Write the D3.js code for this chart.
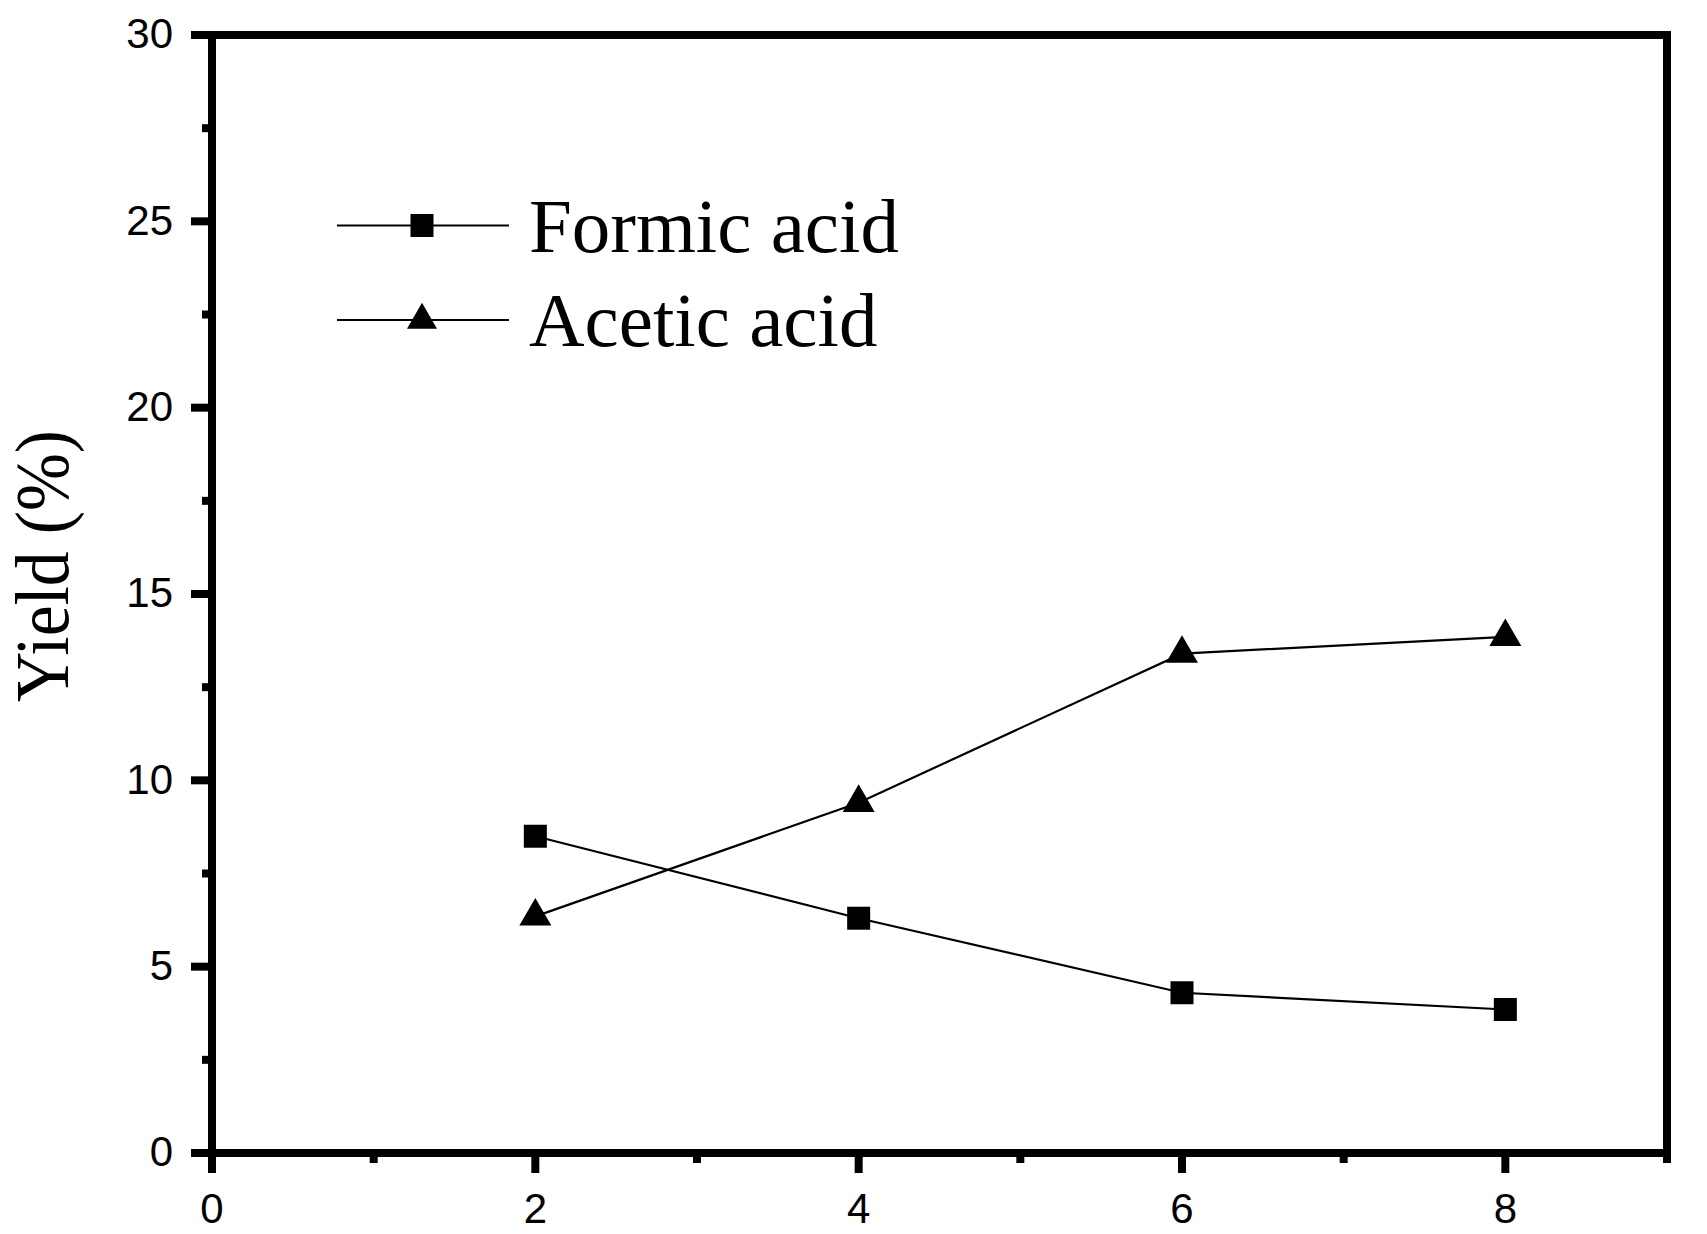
<!DOCTYPE html>
<html><head><meta charset="utf-8">
<script src="https://cdn.jsdelivr.net/npm/d3@7"></script>
<style>html,body{margin:0;padding:0;background:#fff;}svg{display:block;}</style>
</head><body>
<svg id="c" width="1707" height="1234"></svg>
<script>
const times = [2, 4, 6, 8];
const formicAcid = [8.5, 6.3, 4.3, 3.85];
const aceticAcid = [6.35, 9.4, 13.4, 13.85];
const seriesNames = ["Formic acid", "Acetic acid"];
const xMajorTicks = [0, 2, 4, 6, 8];
const xMinorTicks = [1, 3, 5, 7, 9];
const yMajorTicks = [0, 5, 10, 15, 20, 25, 30];
const yMinorTicks = [2.5, 7.5, 12.5, 17.5, 22.5, 27.5];
const yTitle = "Yield (%)";

const svg = d3.select("#c");
const L = 212, R = 1667, T = 35, B = 1153;
const x = d3.scaleLinear().domain([0, 9]).range([L, R]);
const y = d3.scaleLinear().domain([0, 30]).range([B, T]);
const AX = 8;
const sans = "'Liberation Sans', Arial, sans-serif";
const serif = "'Liberation Serif', 'Times New Roman', serif";

function styleAxis(g) {
  g.select(".domain").remove();
  g.selectAll(".tick line").attr("stroke", "#000").attr("stroke-width", AX);
  g.selectAll(".tick text").attr("fill", "#000").style("font-family", sans).style("font-size", "42px");
}

// x axis
svg.append("g").attr("transform", `translate(0,${B})`)
  .call(d3.axisBottom(x).tickValues(xMajorTicks).tickSize(20).tickPadding(20).tickFormat(d3.format("d")).offset(0))
  .call(styleAxis);
svg.append("g").attr("transform", `translate(0,${B})`)
  .call(d3.axisBottom(x).tickValues(xMinorTicks).tickSize(10).tickFormat("").offset(0))
  .call(styleAxis);
// y axis
svg.append("g").attr("transform", `translate(${L},0)`)
  .call(d3.axisLeft(y).tickValues(yMajorTicks).tickSize(21).tickPadding(18).tickFormat(d3.format("d")).offset(0))
  .call(styleAxis);
svg.append("g").attr("transform", `translate(${L},0)`)
  .call(d3.axisLeft(y).tickValues(yMinorTicks).tickSize(10).tickFormat("").offset(0))
  .call(styleAxis);

// frame
svg.append("rect").attr("x", L).attr("y", T).attr("width", R - L).attr("height", B - T)
  .attr("fill", "none").attr("stroke", "#000").attr("stroke-width", AX);

// y title
svg.append("text").attr("transform", "translate(68,566) rotate(-90)")
  .attr("text-anchor", "middle").style("font-family", serif).style("font-size", "76px")
  .attr("textLength", 272).attr("lengthAdjust", "spacingAndGlyphs")
  .attr("fill", "#000").text(yTitle);

// lines
const line = d3.line().x((d, i) => x(times[i])).y(d => y(d));
[formicAcid, aceticAcid].forEach(s => {
  svg.append("path").datum(s).attr("d", line).attr("fill", "none")
    .attr("stroke", "#000").attr("stroke-width", 2.2);
});

function triPath(w, h) {
  // centroid at origin
  return `M0,${-2 * h / 3}L${w / 2},${h / 3}L${-w / 2},${h / 3}Z`;
}

// markers
svg.append("g").selectAll("rect").data(formicAcid).join("rect")
  .attr("x", (d, i) => x(times[i]) - 11.5).attr("y", d => y(d) - 11.5)
  .attr("width", 23).attr("height", 23).attr("fill", "#000");
svg.append("g").selectAll("path").data(aceticAcid).join("path")
  .attr("transform", (d, i) => `translate(${x(times[i])},${y(d)})`)
  .attr("d", triPath(32, 27.7)).attr("fill", "#000");

// legend
const leg = svg.append("g");
const rows = [{ y: 225.5, base: 251.5, name: seriesNames[0], m: "sq" }, { y: 320, base: 346, name: seriesNames[1], m: "tri" }];
rows.forEach(r => {
  leg.append("line").attr("x1", 337).attr("x2", 509).attr("y1", r.y).attr("y2", r.y)
    .attr("stroke", "#000").attr("stroke-width", 2.2);
  if (r.m === "sq") {
    leg.append("rect").attr("x", 422 - 11.5).attr("y", r.y - 11.5).attr("width", 23).attr("height", 23).attr("fill", "#000");
  } else {
    leg.append("path").attr("transform", `translate(422,${r.y})`).attr("d", triPath(30, 26)).attr("fill", "#000");
  }
  leg.append("text").attr("x", 529).attr("y", r.base)
    .style("font-family", serif).style("font-size", "77px").attr("fill", "#000").text(r.name);
});
</script>
</body></html>
